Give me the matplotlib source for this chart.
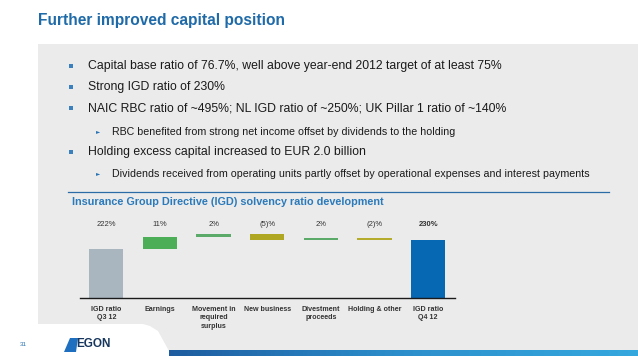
import matplotlib
matplotlib.use("Agg")
import matplotlib.pyplot as plt
import numpy as np
from matplotlib.patches import Polygon, Rectangle

plt.rcParams["font.family"] = ["Liberation Sans", "DejaVu Sans"]

W, H = 638, 360

# waterfall data (IGD solvency ratio, %)
categories = ["IGD ratio\nQ3 12", "Earnings", "Movement in\nrequired\nsurplus", "New business",
              "Divestment\nproceeds", "Holding & other", "IGD ratio\nQ4 12"]
values = [222, 11, 2, -5, 2, -2, 230]
value_labels = ["222%", "11%", "2%", "(5)%", "2%", "(2)%", "230%"]
bar_colors = ["#A9B6C0", "#4DAE58", "#5CAA6A", "#AFA722", "#5CAA6A", "#B5AB2C", "#0667B2"]

title = "Further improved capital position"
chart_title = "Insurance Group Directive (IGD) solvency ratio development"
bullets = [
    (0, "Capital base ratio of 76.7%, well above year-end 2012 target of at least 75%"),
    (0, "Strong IGD ratio of 230%"),
    (0, "NAIC RBC ratio of ~495%; NL IGD ratio of ~250%; UK Pillar 1 ratio of ~140%"),
    (1, "RBC benefited from strong net income offset by dividends to the holding"),
    (0, "Holding excess capital increased to EUR 2.0 billion"),
    (1, "Dividends received from operating units partly offset by operational expenses and interest payments"),
]
bullet_y = [66, 87, 108, 132, 152, 174]


def fx(x):
    return x / W


def fy(y):
    return 1 - y / H


fig = plt.figure(figsize=(W / 100, H / 100), dpi=100)
fig.patch.set_facecolor("white")

# grey content panel with slanted cut-out at bottom left
panel = Polygon([(fx(38), fy(44)), (fx(638), fy(44)), (fx(638), fy(351)),
                 (fx(169), fy(351)), (fx(158), fy(331)), (fx(150), fy(326)),
                 (fx(143), fy(324)), (fx(38), fy(324))], closed=True,
                transform=fig.transFigure, facecolor="#EBEBEB", edgecolor="none", zorder=-2)
fig.patches.append(panel)

# gradient footer line
grad = np.linspace(0, 1, 256).reshape(1, -1)
footer_ax = fig.add_axes([fx(169), fy(356), fx(638 - 169), (356 - 350) / H])
footer_ax.imshow(grad, aspect="auto", cmap=matplotlib.colors.LinearSegmentedColormap.from_list(
    "ft", ["#1E5C9F", "#2C8FCC", "#35A8DE"]))
footer_ax.axis("off")

fig.text(fx(38), fy(21), title, fontsize=11.2, fontweight="bold", color="#1F6AA8",
         va="center", ha="left")

for (level, text), y in zip(bullets, bullet_y):
    if level == 0:
        fig.patches.append(Rectangle((fx(69), fy(y + 2)), 4 / W, 4 / H,
                                     transform=fig.transFigure, facecolor="#3A80BF",
                                     edgecolor="none"))
        fig.text(fx(87.5), fy(y), text, fontsize=8.8, color="#1A1A1A", va="center", ha="left")
    else:
        fig.text(fx(96), fy(y), "\u25ba", fontsize=4, color="#2A74B5", va="center", ha="left",
                 family=["DejaVu Sans"])
        fig.text(fx(111.5), fy(y), text, fontsize=7.7, color="#1A1A1A", va="center", ha="left")

# chart header line and title
fig.add_artist(plt.Line2D([fx(68), fx(609)], [fy(191.5), fy(191.5)], color="#2B6CA6", lw=0.9))
fig.text(fx(72.5), fy(202), chart_title, fontsize=7.8, fontweight="bold", color="#2B7ABB",
         va="center", ha="left")

# waterfall chart
ax_l, ax_r, ax_b, ax_t = 79.5, 455, 297.5, 215
ax = fig.add_axes([fx(ax_l), fy(ax_b), (ax_r - ax_l) / W, (ax_b - ax_t) / H])
ax.set_facecolor("none")
px_per_pct = 1.15
y0 = 180
ax.set_ylim(y0, y0 + (ax_b - ax_t) / px_per_pct)
ax.set_xlim(-0.5, len(values) - 0.5)

x = np.arange(len(values))
bottoms = []
heights = []
level = 0
for i, v in enumerate(values):
    if i == 0 or i == len(values) - 1:
        bottoms.append(y0)
        heights.append(v - y0)
        level = v
    else:
        bottoms.append(min(level, level + v))
        heights.append(abs(v))
        level += v
ax.bar(x, heights, bottom=bottoms, width=0.64, color=bar_colors, edgecolor="none")

label_y = 1 - (224 - ax_t) / (ax_b - ax_t)
for i, lab in enumerate(value_labels):
    ax.text(x[i], label_y, lab, transform=ax.get_xaxis_transform(), ha="center", va="center",
            fontsize=5.5, color="#333333",
            fontweight="bold" if i == len(values) - 1 else "normal")

for side in ["left", "right", "top"]:
    ax.spines[side].set_visible(False)
ax.spines["bottom"].set_color("#1A1A1A")
ax.spines["bottom"].set_linewidth(1.0)
ax.set_yticks([])
ax.set_xticks(x)
ax.set_xticklabels(categories, fontsize=5.1, fontweight="bold", color="#333333", linespacing=1.3)
ax.tick_params(axis="x", length=0, pad=6)

# footer: page number and logo
fig.text(fx(20), fy(345), "31", fontsize=4.5, color="#2A74B5", va="center", ha="left")
fig.patches.append(Polygon([(fx(64), fy(352)), (fx(70), fy(338)), (fx(78), fy(338)),
                            (fx(76), fy(352))], closed=True, transform=fig.transFigure,
                           facecolor="#1F6FC0", edgecolor="none"))
fig.text(fx(76), fy(344), "EGON", fontsize=8.5, fontweight="bold", color="#17365D",
         va="center", ha="left")

fig.savefig("out.png", dpi=100)
